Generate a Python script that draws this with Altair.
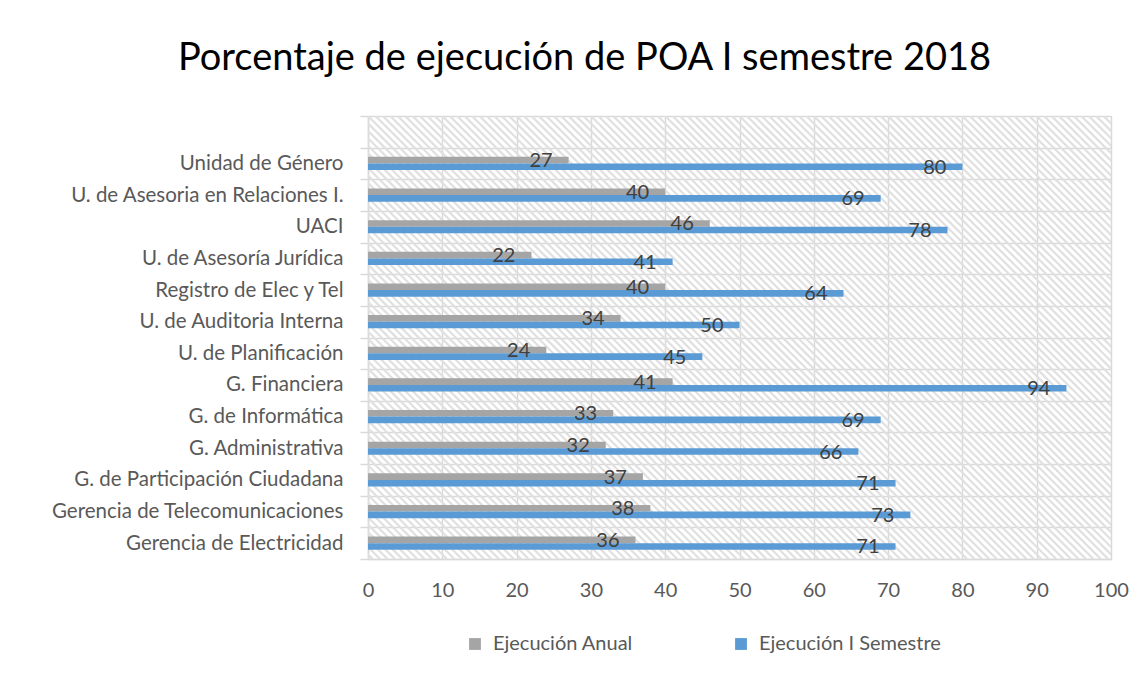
import altair as alt
import pandas as pd

categorias = [
    "Unidad de Género",
    "U. de Asesoria en Relaciones I.",
    "UACI",
    "U. de Asesoría Jurídica",
    "Registro de Elec y Tel",
    "U. de Auditoria Interna",
    "U. de Planificación",
    "G. Financiera",
    "G. de Informática",
    "G. Administrativa",
    "G. de Participación Ciudadana",
    "Gerencia de Telecomunicaciones",
    "Gerencia de Electricidad",
]
anual = [27, 40, 46, 22, 40, 34, 24, 41, 33, 32, 37, 38, 36]
semestre = [80, 69, 78, 41, 64, 50, 45, 94, 69, 66, 71, 73, 71]
series = ["Ejecución Anual", "Ejecución I Semestre"]
colores = ["#A5A5A5", "#5B9BD5"]
x_ticks = list(range(0, 101, 10))

rows = []
for c, a, s in zip(categorias, anual, semestre):
    rows.append({"cat": c, "serie": series[0], "valor": a})
    rows.append({"cat": c, "serie": series[1], "valor": s})
df = pd.DataFrame(rows)

W, H = 743, 443
FONT = "Lato"
y_domain = [" "] + categorias
band = H / len(y_domain)

x_scale = alt.Scale(domain=[0, 100], nice=False, zero=True)

# decorative diagonal hatch of the plot area background
hatch = (
    alt.Chart(alt.sequence(-62, 101, 1.0, as_="a"))
    .transform_calculate(a2="datum.a + %f" % (H / (W / 100.0)))
    .mark_rule(color="#e0e0e0", strokeWidth=2.2, clip=True)
    .encode(
        x=alt.X("a:Q", scale=x_scale,
                axis=alt.Axis(values=x_ticks, grid=True, gridColor="#d9d9d9", gridWidth=1.5,
                              ticks=False, domain=True, domainColor="#d9d9d9", domainWidth=1.5,
                              labelFontSize=20, labelColor="#595959", labelFont=FONT,
                              labelFlush=False, labelPadding=21, title=None)),
        x2="a2:Q",
        y=alt.value(0),
        y2=alt.value(H),
    )
)

y_enc = alt.Y(
    "cat:N",
    scale=alt.Scale(domain=y_domain, paddingInner=0, paddingOuter=0),
    axis=alt.Axis(title=None, grid=True, tickBand="extent", gridColor="#d9d9d9", gridWidth=1.5,
                  ticks=True, tickSize=8, tickColor="#d9d9d9", tickWidth=1.5,
                  domain=True, domainColor="#d9d9d9", domainWidth=1.5,
                  labelFontSize=20.5, labelColor="#595959", labelFont=FONT, labelPadding=17,
                  labelLimit=400),
)
yoff = alt.YOffset("serie:N", sort=series,
                   scale=alt.Scale(domain=series, paddingInner=0, paddingOuter=0,
                                   range=[band / 2 - 6.6, band / 2 + 6.6]))

bars = (
    alt.Chart(df)
    .mark_bar()
    .encode(
        x=alt.X("valor:Q", scale=x_scale),
        y=y_enc,
        yOffset=yoff,
        color=alt.Color(
            "serie:N",
            scale=alt.Scale(domain=series, range=colores),
            legend=alt.Legend(
                title=None, orient="none", direction="horizontal",
                legendX=97, legendY=518, padding=0,
                symbolType="square", symbolSize=140, symbolStrokeWidth=0,
                labelFontSize=20, labelColor="#595959", labelFont=FONT,
                labelLimit=400, columnPadding=98, labelOffset=8,
            ),
        ),
    )
)

labels = (
    alt.Chart(df)
    .mark_text(align="right", baseline="middle", dx=-16, dy=1,
               fontSize=20, color="#404040", font=FONT)
    .encode(
        x=alt.X("valor:Q", scale=x_scale),
        y=y_enc,
        yOffset=yoff,
        text=alt.Text("valor:Q"),
    )
)

chart = (
    alt.layer(hatch, bars, labels)
    .properties(
        width=W,
        height=H,
        autosize=alt.AutoSizeParams(type="none"),
        padding={"left": 360, "top": 108, "right": 27, "bottom": 107},
        title=alt.TitleParams(
            "Porcentaje de ejecución de POA I semestre 2018",
            fontSize=38, font=FONT, color="#000000", fontWeight="normal",
            anchor="middle", dx=-155, dy=40, offset=38, baseline="alphabetic",
        ),
    )
    .configure_view(stroke=None)
    .configure(background="white")
)

chart.save("out.html", embed_options={"renderer": "svg", "actions": False})
